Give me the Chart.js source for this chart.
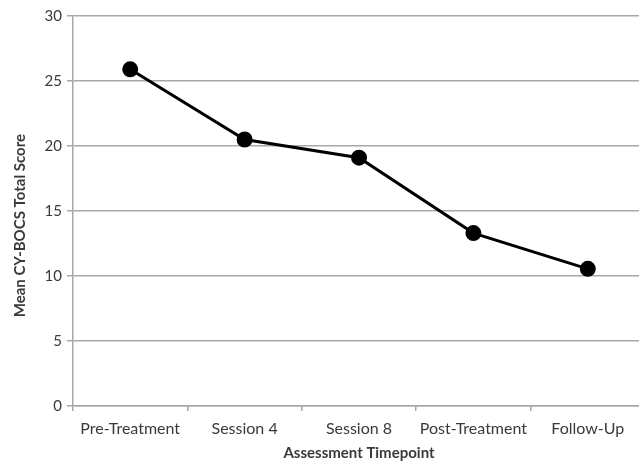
<!DOCTYPE html>
<html>
<head>
<meta charset="utf-8">
<script src="https://cdn.jsdelivr.net/npm/chart.js@4"></script>
<style>
html,body{margin:0;padding:0;background:#fff;overflow:hidden;width:639px;height:466px;}
#wrap{position:absolute;left:0;top:0;width:660px;height:466px;}
</style>
</head>
<body>
<div id="wrap"><canvas id="c" width="660" height="466"></canvas></div>
<script>
const categories = ["Pre-Treatment", "Session 4", "Session 8", "Post-Treatment", "Follow-Up"];
const meanScores = [25.9, 20.5, 19.1, 13.3, 10.55];
const yTicks = [0, 5, 10, 15, 20, 25, 30];
const xTitle = "Assessment Timepoint";
const yTitle = "Mean CY-BOCS Total Score";

const textColor = "#3a3a3a";
const gridColor = "#a8a8a8";
const fontFamily = "Lato, 'Open Sans', sans-serif";

new Chart(document.getElementById("c"), {
  type: "line",
  data: {
    labels: categories,
    datasets: [{
      data: meanScores,
      borderColor: "#000",
      backgroundColor: "#000",
      borderWidth: 3,
      pointRadius: 6.5,
      pointHoverRadius: 6.5,
      pointBackgroundColor: "#000",
      pointBorderColor: "#000",
      tension: 0,
      fill: false
    }]
  },
  options: {
    responsive: false,
    animation: false,
    devicePixelRatio: 1,
    layout: { padding: { top: 16, right: 15, bottom: 0, left: 0 } },
    plugins: { legend: { display: false }, tooltip: { enabled: false } },
    scales: {
      x: {
        type: "category",
        offset: true,
        grid: { display: true, offset: true, drawOnChartArea: false, drawTicks: true, tickLength: 5, color: gridColor, lineWidth: 1.5 },
        border: { display: true, color: gridColor, width: 1.5 },
        ticks: { color: textColor, font: { family: fontFamily, size: 16 }, padding: 8, maxRotation: 0, autoSkip: false },
        title: { display: true, text: xTitle, color: textColor, font: { family: fontFamily, size: 15, weight: "bold" }, padding: { top: 0, bottom: 4 } },
        afterFit: (s) => { s.height = 60; }
      },
      y: {
        min: 0,
        max: 30,
        afterBuildTicks: (s) => { s.ticks = yTicks.map(v => ({ value: v })); },
        grid: { color: gridColor, lineWidth: 1.5, drawTicks: true, tickLength: 6 },
        border: { display: true, color: gridColor, width: 1.5 },
        ticks: { color: textColor, font: { family: fontFamily, size: 15 }, padding: 5 },
        title: { display: true, text: yTitle + "\u00A0\u00A0\u00A0\u00A0\u00A0\u00A0\u00A0\u00A0", color: textColor, font: { family: fontFamily, size: 15, weight: "bold" }, padding: { top: 11, bottom: 0 } },
        afterFit: (s) => { s.width = 73; }
      }
    }
  }
});
</script>
</body>
</html>
